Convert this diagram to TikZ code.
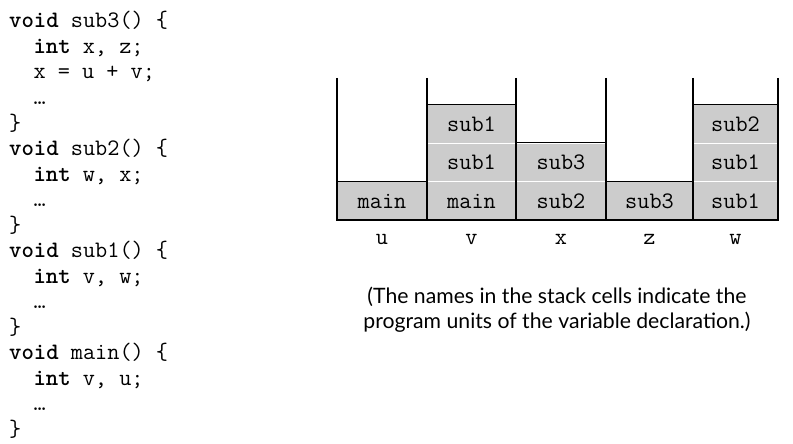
\documentclass[tikz,border=0pt]{standalone}
\usepackage{fontspec}
\setsansfont{Lato}
\newcommand{\kw}[1]{\textbf{#1}}
\newcommand{\ind}{\phantom{xx}}
\tikzset{
  codefont/.style={font=\fontsize{23.6}{25}\selectfont\ttfamily},
  cell/.style={codefont, draw=white, line width=1.2pt, fill=gray!40,
    minimum height=38.5pt, inner sep=0pt},
  stackline/.style={line width=1.2pt}
}
\begin{document}
\begin{tikzpicture}[x=1pt,y=-1pt]
  \useasboundingbox (0,0) rectangle (793,444);

  \begin{scope}[every node/.style={codefont,anchor=base west,inner sep=0pt}]
    \foreach \txt [count=\i from 0] in {
        {\kw{void} sub3() \{},
        {\ind\kw{int} x, z;},
        {\ind x = u + v;},
        {\ind …},
        {\}},
        {\kw{void} sub2() \{},
        {\ind\kw{int} w, x;},
        {\ind …},
        {\}},
        {\kw{void} sub1() \{},
        {\ind\kw{int} v, w;},
        {\ind …},
        {\}},
        {\kw{void} main() \{},
        {\ind\kw{int} v, u;},
        {\ind …},
        {\}}}
      \node (line\i) at (9,{28+25.5*\i}) {\txt};
  \end{scope}

  \begin{scope}[every node/.style={cell}]
    \node[minimum width=90pt] (u1) at (382,201)   {main};
    \node[minimum width=89pt] (v1) at (471.5,201) {main};
    \node[minimum width=89pt] (v2) at (471.5,162.5) {sub1};
    \node[minimum width=89pt] (v3) at (471.5,124) {sub1};
    \node[minimum width=90pt] (x1) at (561,201)   {sub2};
    \node[minimum width=90pt] (x2) at (561,162.5) {sub3};
    \node[minimum width=87pt] (z1) at (649.5,201) {sub3};
    \node[minimum width=85pt] (w1) at (735.5,201) {sub1};
    \node[minimum width=85pt] (w2) at (735.5,162.5) {sub1};
    \node[minimum width=85pt] (w3) at (735.5,124) {sub2};
  \end{scope}

  \begin{scope}[stackline]
    \foreach \x in {337,427,516,606,693,778}
      \draw (\x,78) -- (\x,220.5);
    \draw (337,220) -- (778,220);
    \draw (u1.north west) -- (u1.north east);
    \draw (v3.north west) -- (v3.north east);
    \draw (x2.north west) -- (x2.north east);
    \draw (z1.north west) -- (z1.north east);
    \draw (w3.north west) -- (w3.north east);
  \end{scope}

  \begin{scope}[every node/.style={codefont}]
    \node (lu) at (382,239)   {u};
    \node (lv) at (471.5,239) {v};
    \node (lx) at (561,239)   {x};
    \node (lz) at (649.5,239) {z};
    \node (lw) at (735.5,239) {w};
  \end{scope}

  \node[align=center, font=\fontsize{21.2}{25}\selectfont\sffamily] (note) at (557,310)
    {(The names in the stack cells indicate the\\program units of the variable declaration.)};

\end{tikzpicture}
\end{document}
